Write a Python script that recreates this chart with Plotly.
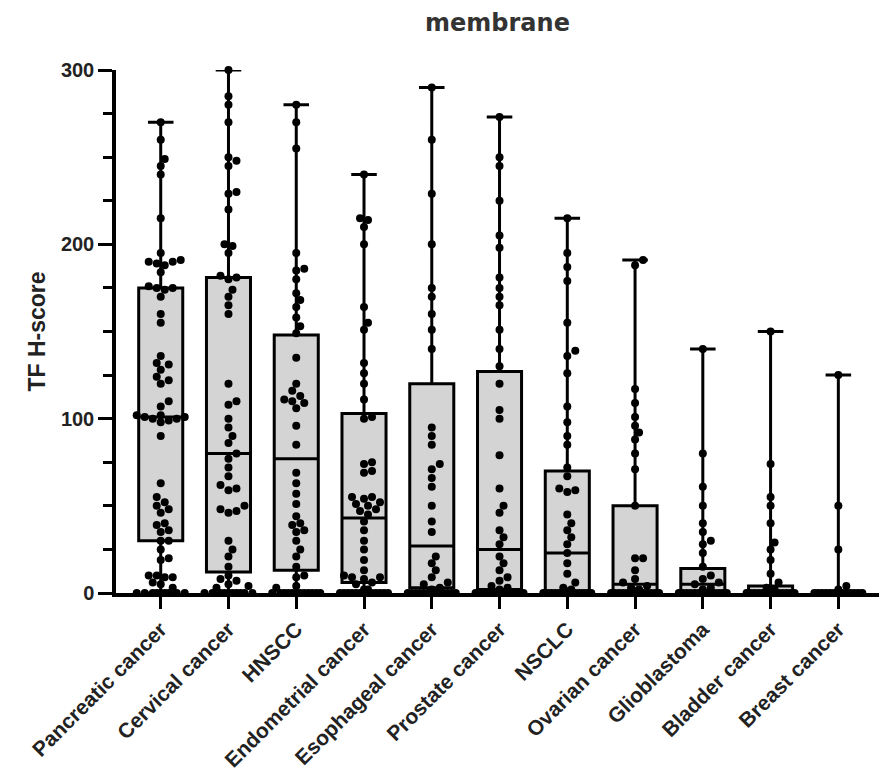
import numpy as np
import plotly.graph_objects as go

categories = ["Pancreatic cancer", "Cervical cancer", "HNSCC", "Endometrial cancer",
              "Esophageal cancer", "Prostate cancer", "NSCLC", "Ovarian cancer",
              "Glioblastoma", "Bladder cancer", "Breast cancer"]

# box statistics (min-to-max whiskers)
q1_vals = [30, 12, 13, 6, 3, 2, 1, 0, 0, 0, 0]
median_vals = [101, 80, 77, 43, 27, 25, 23, 5, 5, 0, 0]
q3_vals = [175, 181, 148, 103, 120, 127, 70, 50, 14, 4, 1]
min_vals = [0, 0, 0, 0, 0, 0, 0, 0, 0, 0, 0]
max_vals = [270, 300, 280, 240, 290, 273, 215, 191, 140, 150, 125]

# individual H-scores
pancreatic = [270, 260, 249, 245, 240, 215, 195, 191, 190, 190, 189, 188, 184, 176, 175, 175, 174,
              170, 160, 155, 136, 132, 131, 128, 124, 122, 120, 110, 107, 102, 102, 101, 101, 100,
              100, 99, 98, 90, 63, 55, 52, 50, 48, 46, 40, 39, 36, 35, 30, 30, 25, 20, 19, 10, 10,
              9, 9, 6, 5, 3] + [0] * 9
cervical = [300, 285, 280, 270, 250, 248, 245, 230, 229, 220, 200, 199, 195, 182, 181, 180, 174,
            170, 165, 160, 120, 110, 108, 100, 95, 90, 86, 80, 77, 72, 67, 62, 60, 59, 50, 48, 47,
            46, 30, 25, 21, 15, 10, 8, 7, 5, 4, 3] + [0] * 10
hnscc = [280, 270, 255, 195, 186, 185, 180, 172, 168, 164, 158, 153, 149, 135, 120, 116, 113, 111,
         110, 109, 106, 96, 85, 69, 63, 57, 51, 44, 40, 39, 36, 35, 30, 25, 21, 15, 10, 9, 4,
         3] + [0] * 12
endometrial = [240, 215, 214, 210, 200, 164, 155, 151, 132, 126, 120, 111, 101, 100, 75, 74, 70, 69,
               55, 55, 54, 52, 51, 50, 48, 47, 45, 41, 36, 30, 25, 19, 13, 10, 9, 9, 8, 6, 5, 2,
               2] + [0] * 16
esophageal = [290, 260, 229, 200, 175, 170, 160, 151, 140, 95, 90, 85, 74, 71, 66, 61, 50, 41, 35,
              21, 17, 13, 9, 6, 5, 3, 2] + [0] * 16
prostate = [273, 250, 245, 225, 205, 198, 181, 175, 170, 165, 151, 140, 130, 120, 105, 100, 79, 60,
            50, 46, 36, 32, 28, 21, 17, 13, 9, 7, 4, 3, 2] + [0] * 16
nsclc = [215, 195, 187, 179, 155, 139, 136, 126, 107, 98, 90, 85, 72, 67, 60, 59, 58, 45, 40, 36,
         32, 28, 23, 17, 11, 6, 3, 2, 1] + [0] * 18
ovarian = [191, 188, 117, 109, 101, 96, 92, 88, 80, 71, 50, 20, 20, 13, 8, 6, 4, 3, 2, 1] + [0] * 24
glioblastoma = [140, 80, 61, 50, 40, 35, 30, 28, 23, 15, 10, 8, 6, 5, 3, 2] + [0] * 25
bladder = [150, 74, 55, 50, 40, 29, 25, 19, 11, 6, 3, 2, 1] + [0] * 32
breast = [125, 50, 25, 4, 2] + [0] * 30

groups = [pancreatic, cervical, hnscc, endometrial, esophageal, prostate,
          nsclc, ovarian, glioblastoma, bladder, breast]

# ---- layout geometry ----
W, H = 879, 772
ML, MR, MT, MB = 116, 0, 70, 179
XR = [-0.66, 10.6]
YR = [0, 300]
px_per_x = (W - ML - MR) / (XR[1] - XR[0])
px_per_y = (H - MT - MB) / (YR[1] - YR[0])
DOT = 8.0
HALF = 24.0


def swarm(vals):
    """Deterministic beeswarm offsets (in x data units) for one column."""
    order = np.argsort(vals, kind="stable")
    ys = np.asarray(vals, dtype=float) * px_per_y
    cands = [0.0]
    k = 1
    while k * DOT / 2 <= HALF:
        cands += [k * DOT / 2, -k * DOT / 2]
        k += 1
    placed = []
    offs = np.zeros(len(vals))
    for idx in order:
        y = ys[idx]
        best, bestd = 0.0, -1.0
        for c in cands:
            near = [np.hypot(c - px, y - py) for px, py in placed if abs(y - py) < DOT]
            md = min(near) if near else 1e9
            if md >= DOT * 0.9:
                best = c
                break
            if md > bestd:
                bestd, best = md, c
        placed.append((best, y))
        offs[idx] = best / px_per_x
    return offs


fig = go.Figure()

fig.add_trace(go.Box(
    x=list(range(len(categories))),
    q1=q1_vals, median=median_vals, q3=q3_vals,
    lowerfence=min_vals, upperfence=max_vals,
    width=0.65, whiskerwidth=0.58,
    fillcolor="#d4d4d4",
    line=dict(color="black", width=3),
    boxpoints=False,
    hoverinfo="skip",
))

xs, ys = [], []
for i, g in enumerate(groups):
    off = swarm(g)
    xs.extend((i + off).tolist())
    ys.extend(g)

fig.add_trace(go.Scatter(
    x=xs, y=ys, mode="markers",
    marker=dict(color="black", size=DOT, line=dict(width=0)),
    cliponaxis=False, hoverinfo="skip",
))

font_main = "Arial, Liberation Sans, sans-serif"

fig.update_layout(
    width=W, height=H,
    margin=dict(l=ML, r=MR, t=MT, b=MB),
    paper_bgcolor="white", plot_bgcolor="white",
    showlegend=False,
    title=dict(text="membrane", x=(ML + (W - MR)) / 2 / W, xanchor="center",
               y=1 - 23 / H, yanchor="middle", yref="container", xref="container",
               font=dict(family="DejaVu Sans, sans-serif", size=24, color="#333", weight="bold")),
    xaxis=dict(
        range=XR, tickmode="array", tickvals=list(range(len(categories))), ticktext=categories,
        tickangle=-45, ticks="outside", ticklen=12, tickwidth=3, tickcolor="black",
        showline=True, linewidth=3.5, linecolor="black", showgrid=False, zeroline=False,
        layer="below traces",
        tickfont=dict(family=font_main, size=21, color="#222", weight="bold"),
    ),
    yaxis=dict(
        range=YR, tickmode="array", tickvals=[0, 100, 200, 300],
        ticks="outside", ticklen=14, tickwidth=3, tickcolor="black",
        minor=dict(tickmode="array", tickvals=[25, 50, 75, 125, 150, 175, 225, 250, 275],
                   ticks="outside", ticklen=9, tickwidth=3, tickcolor="black"),
        showline=True, linewidth=3.5, linecolor="black", showgrid=False, zeroline=False,
        layer="below traces",
        tickfont=dict(family=font_main, size=20, color="#222", weight="bold"),
        title=dict(text="TF H-score", standoff=10,
                   font=dict(family=font_main, size=23, color="#222", weight="bold")),
    ),
)

fig.write_html("out.html")
